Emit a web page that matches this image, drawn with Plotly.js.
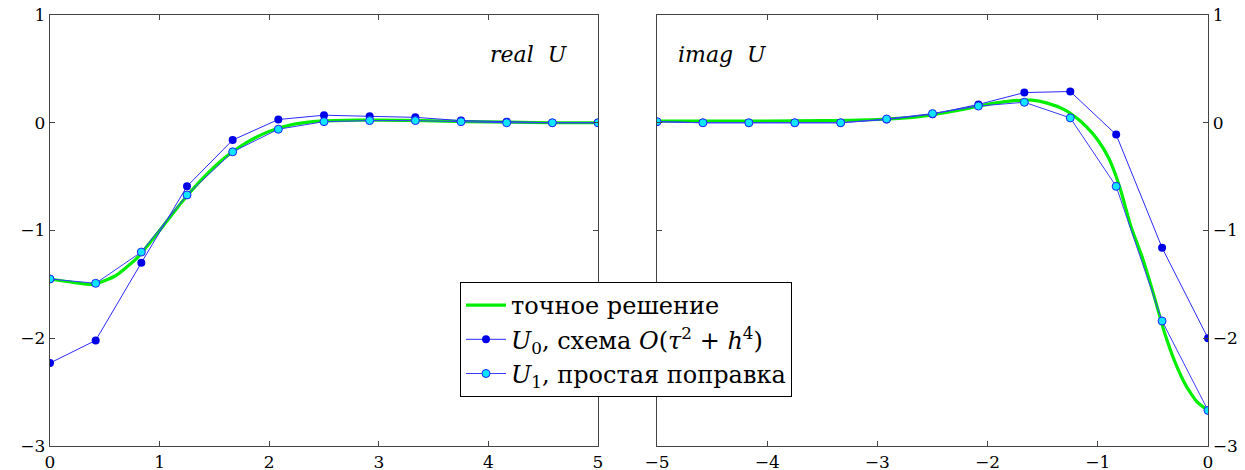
<!DOCTYPE html>
<html><head><meta charset="utf-8">
<script src="https://cdn.plot.ly/plotly-3.0.1.min.js"></script>
<style>body{margin:0;background:#fff}
#chart text{font-family:'DejaVu Serif' !important}</style>
</head><body>
<div id="chart" style="width:1245px;height:470px"></div>
<script>
// grid nodes (h = 5/12)
const xNodesRe = [0, 0.4167, 0.8333, 1.25, 1.6667, 2.0833, 2.5, 2.9167, 3.3333, 3.75, 4.1667, 4.5833, 5];
const xNodesIm = [-5, -4.5833, -4.1667, -3.75, -3.3333, -2.9167, -2.5, -2.0833, -1.6667, -1.25, -0.8333, -0.4167, 0];

// real part
const u0Re = [-2.23, -2.02, -1.30, -0.59, -0.16, 0.03, 0.07, 0.06, 0.05, 0.02, 0.01, 0.0, 0.0];
const u1Re = [-1.45, -1.49, -1.20, -0.67, -0.27, -0.06, 0.01, 0.02, 0.02, 0.01, 0.0, 0.0, 0.0];
const xExactRe = [0, 0.2, 0.4, 0.6, 0.7, 0.8, 1.0, 1.2, 1.4, 1.6, 1.8, 2.0, 2.2, 2.4, 2.6, 2.8, 3.0, 3.4, 3.8, 4.2, 4.6, 5.0];
const exactRe  = [-1.45, -1.48, -1.50, -1.42, -1.34, -1.25, -1.00, -0.74, -0.51, -0.32, -0.18, -0.08, -0.02, 0.01, 0.02, 0.025, 0.025, 0.02, 0.01, 0.005, 0.0, 0.0];

// imaginary part
const u0Im = [0.01, 0.0, 0.0, 0.0, 0.0, 0.03, 0.08, 0.17, 0.28, 0.29, -0.11, -1.16, -2.00];
const u1Im = [0.01, 0.0, 0.0, 0.0, 0.0, 0.035, 0.085, 0.155, 0.19, 0.045, -0.59, -1.84, -2.67];
const xExactIm = [-5, -4.5, -4, -3.5, -3.0, -2.6, -2.3, -2.0, -1.8, -1.6, -1.45, -1.3, -1.2, -1.1, -1.0, -0.9, -0.8, -0.7, -0.6, -0.5, -0.4, -0.3, -0.2, -0.1, 0];
const exactIm  = [0.015, 0.015, 0.015, 0.02, 0.03, 0.06, 0.11, 0.17, 0.20, 0.21, 0.18, 0.12, 0.05, -0.04, -0.16, -0.33, -0.60, -0.96, -1.24, -1.57, -1.93, -2.22, -2.44, -2.59, -2.67];

const names = ['точное решение',
  '<i>U</i><sub>0</sub>, схема <i>O</i>(<i>τ</i><sup>2</sup> + <i>h</i><sup>4</sup>)',
  '<i>U</i><sub>1</sub>, простая поправка'];
const xTicksRe = [0, 1, 2, 3, 4, 5];
const xTicksIm = [-5, -4, -3, -2, -1, 0];
const yTicks = [-3, -2, -1, 0, 1];

const SERIF = 'DejaVu Serif';
const greenLine = {color: '#00ee00', width: 3.2, shape: 'spline', smoothing: 0.5};
const u0Style = {line: {color: '#2a2aff', width: 1}, marker: {color: '#0000e8', size: 8, line: {width: 0}}};
const u1Style = {line: {color: '#3c3cff', width: 1}, marker: {color: '#10e4ff', size: 8, line: {color: '#2020ff', width: 1}}};

const traces = [
  {x: xExactRe, y: exactRe, mode: 'lines', line: greenLine, name: names[0], xaxis: 'x', yaxis: 'y'},
  {x: xNodesRe, y: u0Re, mode: 'lines+markers', line: u0Style.line, marker: u0Style.marker, name: names[1], xaxis: 'x', yaxis: 'y'},
  {x: xNodesRe, y: u1Re, mode: 'lines+markers', line: u1Style.line, marker: u1Style.marker, name: names[2], xaxis: 'x', yaxis: 'y'},
  {x: xExactIm, y: exactIm, mode: 'lines', line: greenLine, showlegend: false, xaxis: 'x2', yaxis: 'y2'},
  {x: xNodesIm, y: u0Im, mode: 'lines+markers', line: u0Style.line, marker: u0Style.marker, showlegend: false, xaxis: 'x2', yaxis: 'y2'},
  {x: xNodesIm, y: u1Im, mode: 'lines+markers', line: u1Style.line, marker: u1Style.marker, showlegend: false, xaxis: 'x2', yaxis: 'y2'}
];

const tickFont = {family: SERIF, size: 17, color: '#000'};
const axBase = {showline: true, linecolor: '#444', linewidth: 1.3, mirror: 'ticks', ticks: 'inside', ticklen: 5,
  tickcolor: '#444', tickwidth: 1.2, showgrid: false, zeroline: false, tickfont: tickFont, tickmode: 'array'};

const layout = {
  width: 1245, height: 470,
  margin: {l: 0, r: 0, t: 15, b: 24, pad: 0},
  paper_bgcolor: '#fff', plot_bgcolor: '#fff',
  font: {family: SERIF, color: '#000'},
  xaxis: Object.assign({}, axBase, {domain: [50/1245, 598/1245], range: [0, 5], anchor: 'y', tickvals: xTicksRe}),
  yaxis: Object.assign({}, axBase, {domain: [0, 1], range: [-3, 1], anchor: 'x', tickvals: yTicks, side: 'left'}),
  xaxis2: Object.assign({}, axBase, {domain: [657/1245, 1208/1245], range: [-5, 0], anchor: 'y2', tickvals: xTicksIm}),
  yaxis2: Object.assign({}, axBase, {domain: [0, 1], range: [-3, 1], anchor: 'x2', tickvals: yTicks, side: 'right'}),
  showlegend: true,
  legend: {x: 460/1245, y: (446-282)/431, xanchor: 'left', yanchor: 'top', xref: 'paper', yref: 'paper',
    bgcolor: '#fff', bordercolor: '#000', borderwidth: 1, itemwidth: 40,
    font: {family: SERIF, size: 24, color: '#000'}, traceorder: 'normal'},
  annotations: [
    {xref: 'x', yref: 'y', x: 4.74, y: 0.63, xanchor: 'right', yanchor: 'middle', showarrow: false,
     text: '<i>real  U</i>', font: {family: SERIF, size: 22, color: '#000'}},
    {xref: 'x2', yref: 'y2', x: -4.83, y: 0.63, xanchor: 'left', yanchor: 'middle', showarrow: false,
     text: '<i>imag  U</i>', font: {family: SERIF, size: 22, color: '#000'}}
  ]
};
function draw() { Plotly.newPlot('chart', traces, layout, {displayModeBar: false, staticPlot: true}); }
if (document.fonts && document.fonts.load) {
  Promise.all([document.fonts.load('24px "DejaVu Serif"'), document.fonts.load('italic 24px "DejaVu Serif"')])
    .then(draw, draw);
} else { draw(); }
</script>
</body></html>
